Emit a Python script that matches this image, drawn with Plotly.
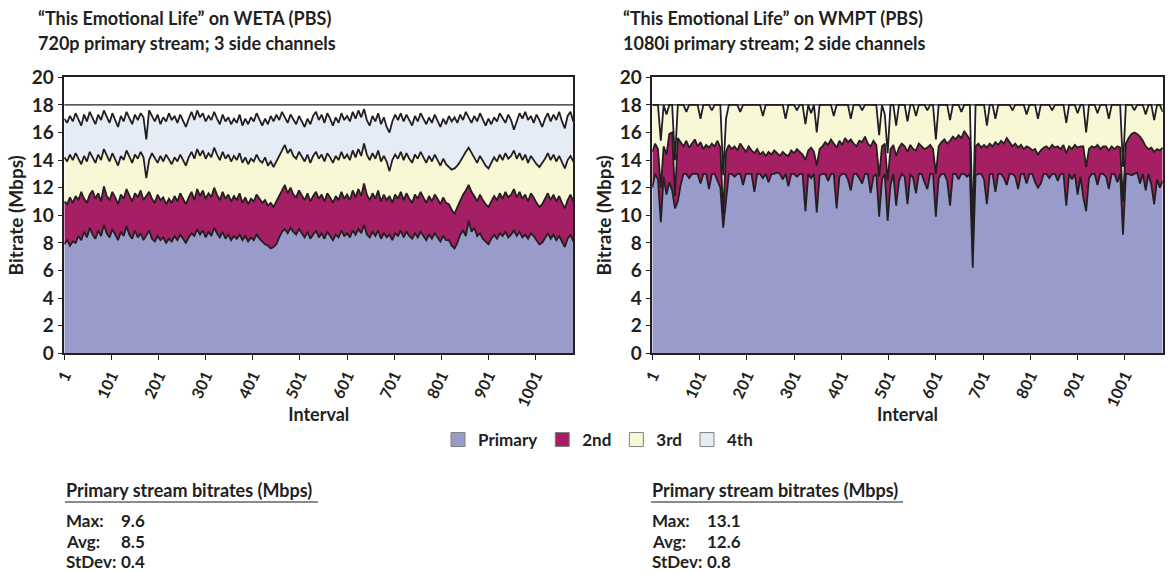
import plotly.graph_objects as go

# Sampled interval numbers (every 6th interval of the capture)
INTERVALS = list(range(1, 1082, 6))
X_TICKS = [1, 101, 201, 301, 401, 501, 601, 701, 801, 901, 1001]
MUX_CEILING = 18  # Mbps available to the multiplex

# ---- WETA: 720p primary + 3 side channels ----
# Cumulative multiplex level (Mbps) after each channel is added.
weta_primary = [
    7.9, 8.2, 7.8, 8.1, 8.0, 8.5, 8.2, 8.8, 8.4, 9.1, 8.6, 8.3, 8.9, 8.5, 9.3, 8.7, 8.4, 9.0, 8.6, 8.2,
    8.8, 8.5, 9.2, 8.6, 8.3, 8.9, 8.4, 8.7, 8.2, 8.6, 8.9, 8.3, 8.1, 8.5, 8.2, 8.4, 8.0, 8.3, 8.1, 8.5,
    8.2, 8.6, 8.3, 8.0, 8.4, 8.7, 8.5, 9.0, 8.6, 8.9, 8.4, 8.8, 8.5, 9.1, 8.7, 8.4, 8.8, 8.3, 8.6, 8.2,
    8.5, 8.3, 8.6, 8.2, 8.5, 8.1, 8.4, 8.2, 8.6, 8.3, 8.1, 7.9, 7.8, 7.6, 7.7, 7.9, 8.4, 8.8, 9.0, 8.7,
    9.1, 8.8, 8.6, 9.0, 8.7, 8.4, 8.8, 8.3, 8.6, 8.9, 8.4, 8.7, 8.3, 8.8, 8.5, 8.2, 8.6, 8.4, 8.9, 8.5,
    8.7, 8.4, 8.9, 8.6, 9.0, 8.7, 9.3, 8.6, 8.4, 8.8, 8.5, 8.9, 8.3, 8.7, 8.4, 8.6, 8.2, 8.7, 8.5, 8.9,
    8.4, 8.8, 8.5, 8.3, 8.7, 8.4, 8.8, 8.5, 8.2, 8.6, 8.3, 8.7, 8.4, 8.1, 8.5, 8.2, 8.2, 7.8, 7.6, 8.0,
    8.6, 8.9, 8.5, 9.6, 8.8, 9.1, 8.5, 8.7, 8.3, 8.1, 7.9, 8.3, 8.6, 8.3, 8.7, 8.5, 8.8, 8.4, 8.6, 8.9,
    8.5, 8.8, 8.4, 8.6, 8.3, 8.7, 8.5, 8.2, 7.9, 8.0, 8.4, 8.7, 8.3, 8.6, 8.2, 8.5, 8.1, 7.7, 8.3, 8.6,
    8.1,
]
weta_through_2nd = [
    11.0, 10.8, 11.3, 10.9, 11.4, 11.1, 11.7, 11.2, 10.9, 11.5, 11.8, 11.2, 11.6, 11.0, 12.1, 11.4, 11.1, 11.7, 11.3, 10.8,
    11.5, 11.2, 11.9, 11.4, 11.0, 11.6, 11.3, 11.8, 11.1, 11.4, 11.7, 11.2, 10.9, 11.5, 11.1, 11.3, 10.8, 11.2, 10.9, 11.4,
    11.0, 11.6, 11.2, 10.8, 11.3, 11.7, 11.1, 11.9, 11.4, 11.8, 11.2, 11.6, 11.3, 12.0, 11.5, 11.1, 11.7, 11.2, 11.5, 11.0,
    11.4, 11.1, 11.6, 10.9, 11.3, 10.8, 11.2, 11.0, 11.5, 11.2, 10.9, 11.1, 10.7, 10.9, 10.6, 11.0, 11.4, 11.8, 12.2, 11.6,
    12.0, 11.5, 11.3, 11.8, 11.4, 11.1, 11.6, 11.0, 11.4, 11.7, 11.2, 11.5, 11.0, 11.6, 11.3, 10.9, 11.4, 11.1, 11.7, 11.2,
    11.5, 11.1, 11.8, 11.3, 11.9, 11.4, 12.3, 11.5, 11.1, 11.6, 11.2, 11.8, 11.0, 11.5, 11.1, 11.4, 10.9, 11.5, 11.2, 11.7,
    11.1, 11.6, 11.2, 10.9, 11.5, 11.2, 11.7, 11.3, 10.9, 11.4, 11.0, 11.5, 11.2, 10.8, 11.3, 10.9, 10.8, 10.4, 10.1, 10.6,
    11.1, 11.5, 11.8, 12.2, 11.7, 11.4, 11.0, 11.5, 11.1, 10.8, 10.6, 11.0, 11.4, 11.1, 11.6, 11.2, 11.7, 11.3, 11.5, 11.9,
    11.3, 11.7, 11.2, 11.5, 11.0, 11.6, 11.3, 10.9, 10.6, 10.8, 11.2, 11.6, 11.1, 11.5, 11.0, 11.4, 10.9, 10.5, 11.1, 11.5,
    11.0,
]
weta_through_3rd = [
    14.2, 13.9, 14.4, 14.0, 14.5, 14.1, 13.7, 14.3, 13.9, 14.6, 14.2, 13.8, 14.4, 14.0, 14.8, 14.3, 13.9, 14.5, 14.1, 13.6,
    14.3, 14.0, 14.7, 14.2, 13.8, 14.4, 14.1, 14.6, 14.2, 12.7, 14.0, 14.5, 14.1, 13.8, 14.3, 13.9, 14.4, 14.0, 13.7, 14.2,
    13.9, 14.4, 14.0, 13.6, 14.2, 14.6, 14.1, 14.8, 14.3, 14.7, 14.1, 14.5, 14.2, 14.9, 14.4, 14.0, 14.6, 14.1, 14.4, 13.9,
    14.3, 14.0, 14.5, 13.8, 14.2, 13.7, 14.1, 13.9, 14.4, 14.0, 13.8, 14.2, 13.6, 13.9, 13.5, 13.9, 14.3, 14.7, 15.1, 14.5,
    14.8, 14.3, 14.1, 14.6, 14.2, 13.9, 14.4, 13.8, 14.3, 14.6, 14.1, 14.4, 13.9, 14.5, 14.2, 13.8, 14.3, 14.0, 14.6, 14.1,
    14.4, 14.0, 14.7, 14.2, 14.8, 14.3, 15.2, 14.4, 14.0, 14.5, 14.1, 14.7, 13.9, 14.3, 13.9, 13.2, 14.0, 14.4, 14.1, 14.6,
    14.0, 14.5, 14.1, 13.8, 14.4, 14.1, 14.6, 14.2, 13.8, 14.3, 13.9, 14.4, 14.0, 13.6, 14.1, 13.7, 13.5, 13.3, 13.4, 13.6,
    13.9, 14.3, 14.6, 14.9, 14.5, 14.2, 13.8, 14.3, 13.9, 13.6, 13.4, 13.8, 14.2, 13.9, 14.4, 14.0, 14.5, 14.1, 14.3, 14.7,
    14.1, 14.5, 14.0, 14.4, 13.8, 14.3, 14.0, 13.7, 13.5, 13.8, 14.1, 14.5, 14.0, 14.4, 13.9, 14.3, 13.8, 13.4, 14.0, 14.3,
    13.9,
]
weta_through_4th = [
    17.0, 16.7, 17.2, 16.8, 17.4, 16.9, 16.5, 17.3, 16.8, 17.5, 17.0, 16.6, 17.3, 16.9, 17.6, 17.1, 16.7, 17.4, 16.9, 16.4,
    17.2, 16.8, 17.5, 17.0, 16.6, 17.3, 16.9, 17.4, 17.1, 15.5, 17.6, 17.2, 16.8, 17.3, 16.6, 17.1, 16.8, 17.4, 16.9, 17.2,
    16.7, 17.3, 16.9, 16.4, 17.0, 17.5, 16.9, 17.6, 17.1, 17.4, 16.8, 17.2, 16.9, 17.5, 17.0, 16.6, 17.3, 16.8, 17.1, 16.6,
    17.0, 16.7, 17.3, 16.5, 17.0, 16.6, 17.1, 16.8, 17.4, 16.9, 16.5, 17.0, 16.6, 17.2, 16.8, 17.3, 16.9, 17.5, 17.1, 16.7,
    17.3, 16.9, 16.6, 17.2, 16.8, 16.4, 17.0, 16.6, 17.2, 17.5, 16.9, 17.3, 16.7, 17.4, 17.0, 16.5, 17.1, 16.7, 17.4, 16.9,
    17.2, 16.8, 17.5, 17.0, 17.6, 17.1, 17.7, 16.9, 16.5, 17.2, 16.8, 17.4, 16.6, 17.1, 16.4, 16.0, 16.8, 17.3, 16.9, 17.4,
    16.8, 17.3, 16.9, 16.5, 17.2, 16.8, 17.4, 17.0, 16.6, 17.1, 16.7, 17.3, 16.9, 16.4, 17.0, 16.6, 17.2, 16.8, 17.1, 16.7,
    17.3, 16.9, 17.5, 17.1, 16.7, 17.2, 16.8, 17.4, 16.9, 16.5, 17.0, 16.6, 17.1, 16.8, 17.4, 17.0, 16.7, 17.3, 16.9, 16.2,
    16.8, 17.4, 17.0, 17.5, 16.9, 17.2, 16.7, 17.3, 16.9, 16.4, 17.0, 17.4, 16.8, 17.3, 16.9, 17.5, 16.8, 16.3, 17.2, 17.5,
    16.8,
]

# ---- WMPT: 1080i primary + 2 side channels ----
wmpt_primary = [
    12.0, 13.0, 12.6, 9.5, 12.8, 11.5, 12.4, 11.8, 10.5, 11.0, 12.2, 13.0, 13.0, 12.7, 13.0, 13.0, 13.0, 12.3, 13.0, 13.0,
    11.9, 13.0, 13.0, 12.5, 12.0, 9.1, 11.0, 13.0, 13.0, 12.8, 13.0, 13.0, 12.2, 13.0, 13.0, 13.0, 11.7, 13.0, 13.0, 12.7,
    13.0, 12.4, 13.0, 13.0, 13.1, 13.0, 12.6, 13.0, 12.1, 13.0, 13.0, 12.8, 13.0, 13.0, 10.3, 13.0, 12.7, 13.0, 10.2, 12.9,
    13.0, 13.0, 12.5, 13.0, 13.0, 10.5, 12.8, 13.0, 13.0, 12.6, 11.8, 13.0, 13.0, 12.7, 12.3, 13.0, 13.0, 11.6, 12.8, 13.0,
    9.9, 12.6, 13.0, 9.6, 12.2, 13.0, 10.7, 12.5, 13.0, 12.8, 10.8, 13.0, 12.7, 11.6, 13.0, 13.0, 12.4, 11.9, 13.0, 13.0,
    9.9, 12.7, 13.0, 13.0, 12.5, 10.7, 13.0, 13.0, 12.6, 13.0, 13.0, 12.8, 13.0, 6.2, 12.9, 13.0, 13.0, 12.6, 10.8, 13.0,
    13.0, 11.7, 13.0, 13.0, 12.7, 12.2, 13.0, 13.0, 12.8, 11.9, 13.0, 13.0, 12.3, 13.0, 13.0, 12.4, 12.0, 12.3, 13.0, 13.0,
    12.7, 13.0, 13.0, 12.5, 13.0, 13.0, 10.7, 13.0, 12.6, 13.0, 11.5, 12.8, 11.3, 10.3, 12.7, 13.0, 13.0, 12.2, 13.0, 13.0,
    12.8, 11.9, 13.0, 13.0, 12.4, 13.0, 8.6, 13.0, 13.0, 12.9, 13.0, 13.1, 12.3, 13.0, 11.8, 13.0, 12.2, 10.8, 12.6, 12.0,
    12.5,
]
wmpt_through_2nd = [
    14.6, 15.2, 14.8, 12.0, 15.0, 14.4, 15.9, 16.0, 11.4, 15.6, 15.3, 15.0, 15.4, 14.9, 15.2, 15.5, 15.0, 15.3, 14.8, 15.1,
    14.9, 15.2, 15.0, 15.4, 14.9, 10.1, 14.6, 15.1, 14.8, 15.0, 14.7, 15.2, 14.9, 14.6, 15.0, 14.7, 14.5, 14.8, 14.4, 14.6,
    14.3, 14.6, 14.4, 14.7, 14.5, 14.3, 14.6, 14.4, 14.3, 14.7, 14.5, 14.8, 14.6, 14.4, 14.0, 14.7, 14.9, 14.6, 13.6, 14.8,
    15.0, 15.3, 15.1, 15.5, 15.2, 14.9, 15.4, 15.1, 15.6, 15.3, 15.5, 15.2, 15.0, 15.4, 15.3, 15.7, 15.2, 15.0, 15.4, 15.1,
    12.8, 15.0, 15.2, 12.5, 14.8, 15.1, 14.3, 14.9, 15.2, 15.0, 14.6, 15.1, 14.8, 14.7, 15.2, 15.0, 14.8, 14.9, 15.1, 14.8,
    13.0, 15.0, 15.3, 15.5, 15.2, 15.4, 15.7, 15.5, 15.8, 15.6, 16.1, 15.8, 15.5, 7.4, 15.0, 15.2, 14.9, 15.1, 14.9, 15.2,
    15.0, 15.3, 15.1, 15.4, 15.2, 15.6, 15.3, 15.0, 15.2, 14.9, 15.1, 14.8, 15.0, 14.9, 14.7, 14.8, 14.4, 14.7, 14.9, 15.0,
    14.8, 15.1, 14.9, 15.0, 14.8, 15.1, 14.5, 15.0, 14.8, 15.1, 14.9, 15.0, 15.0, 13.5, 14.8, 15.0, 14.9, 15.1, 14.8, 15.0,
    15.0, 14.7, 15.0, 14.8, 15.0, 14.9, 11.0, 15.2, 15.6, 15.9, 16.0, 15.9, 15.7, 15.4, 15.0, 14.8, 14.9, 14.6, 14.8, 14.7,
    14.9,
]
wmpt_through_3rd = [
    18.0, 18.0, 18.0, 15.4, 18.0, 17.3, 18.0, 18.0, 14.0, 18.0, 18.0, 18.0, 17.5, 18.0, 18.0, 18.0, 18.0, 17.0, 18.0, 18.0,
    18.0, 17.6, 18.0, 18.0, 18.0, 12.9, 17.0, 18.0, 18.0, 18.0, 18.0, 17.5, 18.0, 18.0, 18.0, 18.0, 18.0, 18.0, 18.0, 17.2,
    18.0, 18.0, 18.0, 18.0, 18.0, 18.0, 18.0, 17.0, 18.0, 18.0, 18.0, 17.6, 18.0, 18.0, 16.6, 18.0, 17.4, 18.0, 16.0, 18.0,
    18.0, 18.0, 18.0, 18.0, 17.2, 18.0, 18.0, 18.0, 18.0, 18.0, 17.0, 18.0, 18.0, 18.0, 17.6, 18.0, 18.0, 18.0, 18.0, 18.0,
    15.8, 18.0, 17.3, 14.5, 18.0, 18.0, 16.5, 18.0, 18.0, 18.0, 16.8, 18.0, 18.0, 17.2, 18.0, 18.0, 18.0, 17.6, 18.0, 18.0,
    15.5, 18.0, 18.0, 18.0, 18.0, 16.9, 18.0, 18.0, 18.0, 17.5, 18.0, 18.0, 18.0, 9.0, 18.0, 18.0, 18.0, 18.0, 16.5, 18.0,
    18.0, 17.0, 18.0, 18.0, 18.0, 18.0, 18.0, 17.6, 18.0, 18.0, 18.0, 18.0, 17.3, 18.0, 18.0, 18.0, 17.0, 18.0, 18.0, 18.0,
    18.0, 17.6, 18.0, 18.0, 18.0, 18.0, 16.7, 18.0, 18.0, 18.0, 17.4, 18.0, 18.0, 16.0, 18.0, 18.0, 18.0, 17.4, 18.0, 18.0,
    18.0, 17.0, 18.0, 18.0, 18.0, 18.0, 13.5, 18.0, 18.0, 18.0, 17.6, 18.0, 18.0, 18.0, 17.3, 18.0, 18.0, 16.9, 18.0, 18.0,
    17.5,
]

for series in (weta_primary, weta_through_2nd, weta_through_3rd, weta_through_4th,
               wmpt_primary, wmpt_through_2nd, wmpt_through_3rd):
    assert len(series) == len(INTERVALS)

CHANNELS = ["Primary", "2nd", "3rd", "4th"]
FILLS = ["#999ccb", "#a41f63", "#f8f7d6", "#e6ecf5"]
INK = "#231f20"
FONT = "Lato"

W, H = 1170, 572


def px_x(p):
    return p / W


def px_y(p):
    return (H - p) / H


fig = go.Figure()

panels = [
    ("x", "y", [weta_primary, weta_through_2nd, weta_through_3rd, weta_through_4th]),
    ("x2", "y2", [wmpt_primary, wmpt_through_2nd, wmpt_through_3rd]),
]
for xa, ya, levels in panels:
    for k, (name, vals, fill) in enumerate(zip(CHANNELS, levels, FILLS)):
        fig.add_trace(go.Scatter(
            x=INTERVALS, y=vals, name=name,
            fill="tozeroy" if k == 0 else "tonexty",
            mode="lines", line=dict(color=INK, width=1.8),
            fillcolor=fill, showlegend=False, xaxis=xa, yaxis=ya,
        ))

# legend-only swatches
for name, fill in zip(CHANNELS, FILLS):
    fig.add_trace(go.Scatter(
        x=[None], y=[None], name=name, mode="markers",
        marker=dict(symbol="square", size=14, color=fill,
                    line=dict(color="#808080", width=1)),
    ))


def bold(size):
    return dict(family=FONT, size=size, color=INK, weight="bold")


y_dom = [px_y(353.3), px_y(77.3)]
x_doms = [[px_x(64.3), px_x(573.3)], [px_x(652.3), px_x(1162.7)]]

axis_common = dict(showline=True, mirror=True, linecolor=INK, linewidth=1.6,
                   ticks="outside", ticklen=5, tickcolor=INK, tickwidth=1.4,
                   showgrid=False, zeroline=False, automargin=False)

layout = dict(
    width=W, height=H, margin=dict(l=0, r=0, t=0, b=0, autoexpand=False),
    paper_bgcolor="white", plot_bgcolor="white",
    font=dict(family=FONT, color=INK, weight="bold"),
    showlegend=True,
    legend=dict(orientation="h", x=px_x(598), xanchor="center",
                y=px_y(440), yanchor="middle", traceorder="normal",
                font=bold(17), itemwidth=30, tracegroupgap=0),
)
for k, (dom, anchor) in enumerate(zip(x_doms, ["y", "y2"])):
    suffix = "" if k == 0 else "2"
    layout["xaxis" + suffix] = dict(
        axis_common, domain=dom, anchor=anchor, range=[1, 1081],
        tickmode="array", tickvals=X_TICKS, ticktext=[str(t) for t in X_TICKS],
        tickangle=-65, tickfont=bold(16),
        title=dict(text="Interval", font=bold(18), standoff=0),
    )
    layout["yaxis" + suffix] = dict(
        axis_common, domain=y_dom, anchor="x" + suffix, range=[0, 20],
        tick0=0, dtick=2, tickfont=bold(19),
        title=dict(text="Bitrate (Mbps)", font=bold(19), standoff=3),
    )
fig.update_layout(**layout)

# multiplex ceiling line
for xa, ya in [("x", "y"), ("x2", "y2")]:
    fig.add_shape(type="line", xref=f"{xa} domain", x0=0, x1=1,
                  yref=ya, y0=MUX_CEILING, y1=MUX_CEILING,
                  line=dict(color=INK, width=1.4))

# chart headings
headings = [
    (37, "“This Emotional Life” on WETA (PBS)", "720p primary stream; 3 side channels"),
    (622, "“This Emotional Life” on WMPT (PBS)", "1080i primary stream; 2 side channels"),
]
for x0, line1, line2 in headings:
    for text, yc in [(line1, 18), (line2, 43)]:
        fig.add_annotation(xref="paper", yref="paper", x=px_x(x0), y=px_y(yc),
                           xanchor="left", yanchor="middle", showarrow=False,
                           borderpad=0, text=text, font=bold(18))

# primary-stream statistics blocks
stats = [
    (65, 318, ["9.6", "8.5", "0.4"]),
    (651, 903, ["13.1", "12.6", "0.8"]),
]
for x0, xend, values in stats:
    fig.add_annotation(xref="paper", yref="paper", x=px_x(x0), y=px_y(490),
                       xanchor="left", yanchor="middle", showarrow=False,
                       borderpad=0, text="Primary stream bitrates (Mbps)", font=bold(18))
    fig.add_shape(type="line", xref="paper", yref="paper",
                  x0=px_x(x0), x1=px_x(xend), y0=px_y(502), y1=px_y(502),
                  line=dict(color="#8a8a8a", width=2))
    for label, val, yc in zip(["Max:", "Avg:", "StDev:"], values, [520, 541, 561]):
        fig.add_annotation(xref="paper", yref="paper", x=px_x(x0), y=px_y(yc),
                           xanchor="left", yanchor="middle", showarrow=False,
                           borderpad=0, text=label, font=bold(17))
        fig.add_annotation(xref="paper", yref="paper", x=px_x(x0 + 55), y=px_y(yc),
                           xanchor="left", yanchor="middle", showarrow=False,
                           borderpad=0, text=val, font=bold(17))

fig.write_html("out.html")
